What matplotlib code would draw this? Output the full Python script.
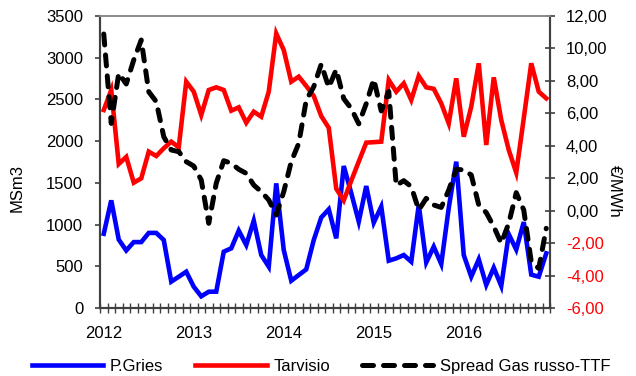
import numpy as np
import matplotlib
matplotlib.use("Agg")
import matplotlib.pyplot as plt

plt.rcParams["font.family"] = ["Liberation Sans", "DejaVu Sans"]
plt.rcParams["font.size"] = 12

# === Dati (mensili, gen 2012 - dic 2016) ===
years = ["2012", "2013", "2014", "2015", "2016"]

pgries = [890, 1290, 820, 690, 790, 790, 900, 900, 815, 316,
          375, 435, 255, 140, 195, 196, 675, 715, 927, 755,
          1047, 635, 495, 1494, 695, 327, 395, 463, 815, 1085,
          1183, 835, 1702, 1378, 1035, 1462, 1023, 1215, 567, 595,
          635, 555, 1235, 547, 735, 527, 1200, 1754, 635, 375,
          583, 276, 483, 264, 885, 700, 1030, 400, 375, 655]

tarvisio = [2373, 2613, 1726, 1811, 1502, 1554, 1874, 1822, 1914, 1994,
            1926, 2713, 2593, 2313, 2613, 2645, 2613, 2365, 2405, 2221,
            2353, 2293, 2593, 3290, 3092, 2713, 2773, 2661, 2541, 2300,
            2160, 1430, 1290, 1525, 1755, 1982, 1988, 1994, 2733, 2593,
            2693, 2493, 2781, 2645, 2627, 2453, 2213, 2753, 2053, 2413,
            2933, 1954, 2765, 2253, 1894, 1622, 2273, 2933, 2593, 2513]

spread = [10.89, 5.38, 8.47, 7.81, 9.29, 10.52, 7.33, 6.72, 4.56, 3.74,
          3.64, 3.02, 2.75, 1.89, -0.78, 1.69, 3.08, 2.92, 2.55, 2.30,
          1.58, 1.17, 0.66, -0.27, 1.17, 3.02, 4.15, 6.82, 7.64, 9.03,
          7.60, 8.70, 6.90, 6.30, 5.35, 6.60, 8.10, 6.15, 7.35, 1.55,
          1.85, 1.48, 0.04, 0.76, 0.35, 0.20, 1.27, 2.55, 2.51, 2.20,
          0.35, -0.12, -0.98, -2.01, -0.78, 1.11, 0.04, -3.15, -3.56, -1.09]

x = np.arange(len(pgries))

# === Figura ===
fig = plt.figure(figsize=(6.36, 3.76), dpi=100)
ax = fig.add_axes([100 / 636, 1 - 308 / 376, 450 / 636, 292 / 376])
ax2 = ax.twinx()

ax.plot(x, pgries, color="#0000ff", lw=3.3, solid_joinstyle="miter", label="P.Gries")
ax.plot(x, tarvisio, color="#ff0000", lw=3.3, solid_joinstyle="miter", label="Tarvisio")
ax2.plot(x, spread, color="black", lw=3.6, dashes=(2.2, 2.0),
         dash_capstyle="round", label="Spread Gas russo-TTF")

# asse sinistro
ax.set_xlim(-0.5, len(x) - 0.5)
ax.set_ylim(0, 3500)
ax.set_yticks(np.arange(0, 3501, 500))
ax.tick_params(axis="y", direction="out", length=3.6, width=1.2,
               color="#404040", pad=8.5, labelsize=12)
ax.set_ylabel("MSm3", fontsize=12)
ax.yaxis.set_label_coords(-0.167, 0.41)

# asse x: tacche mensili, etichette anno
ax.set_xticks(np.arange(0, len(x), 12))
ax.set_xticklabels(years)
ax.set_xticks(np.arange(-0.5, len(x), 1), minor=True)
ax.tick_params(axis="x", which="major", length=0, pad=13, labelsize=12)
ax.tick_params(axis="x", which="minor", direction="inout", length=7,
               width=1.0, color="#404040")

# asse destro
ax2.set_ylim(-6, 12)
rt = np.arange(-6, 12.1, 2)
ax2.set_yticks(rt)
ax2.set_yticklabels([f"{v:.2f}".replace(".", ",") for v in rt])
for lab, v in zip(ax2.get_yticklabels(), rt):
    if v < 0:
        lab.set_color("#ff0000")
ax2.tick_params(axis="y", direction="inout", length=7, width=1.2,
                color="#404040", pad=8, labelsize=12)
ax2.set_ylabel("€/MWh", fontsize=12, rotation=270)
ax2.yaxis.set_label_coords(1.159, 0.40)

# bordi
for a in (ax, ax2):
    a.spines["top"].set_color("#8c8c8c")
    a.spines["top"].set_linewidth(1.3)
    for s in ("left", "right", "bottom"):
        a.spines[s].set_color("#404040")
        a.spines[s].set_linewidth(1.5)

# legenda
h1, l1 = ax.get_legend_handles_labels()
h2, l2 = ax2.get_legend_handles_labels()
fig.legend(h1 + h2, l1 + l2, loc="center", bbox_to_anchor=(0.505, 0.025),
           ncol=3, frameon=False, fontsize=12, handlelength=4.3,
           handletextpad=0.4, columnspacing=1.9, borderpad=0)

plt.savefig("out.png", dpi=100)
